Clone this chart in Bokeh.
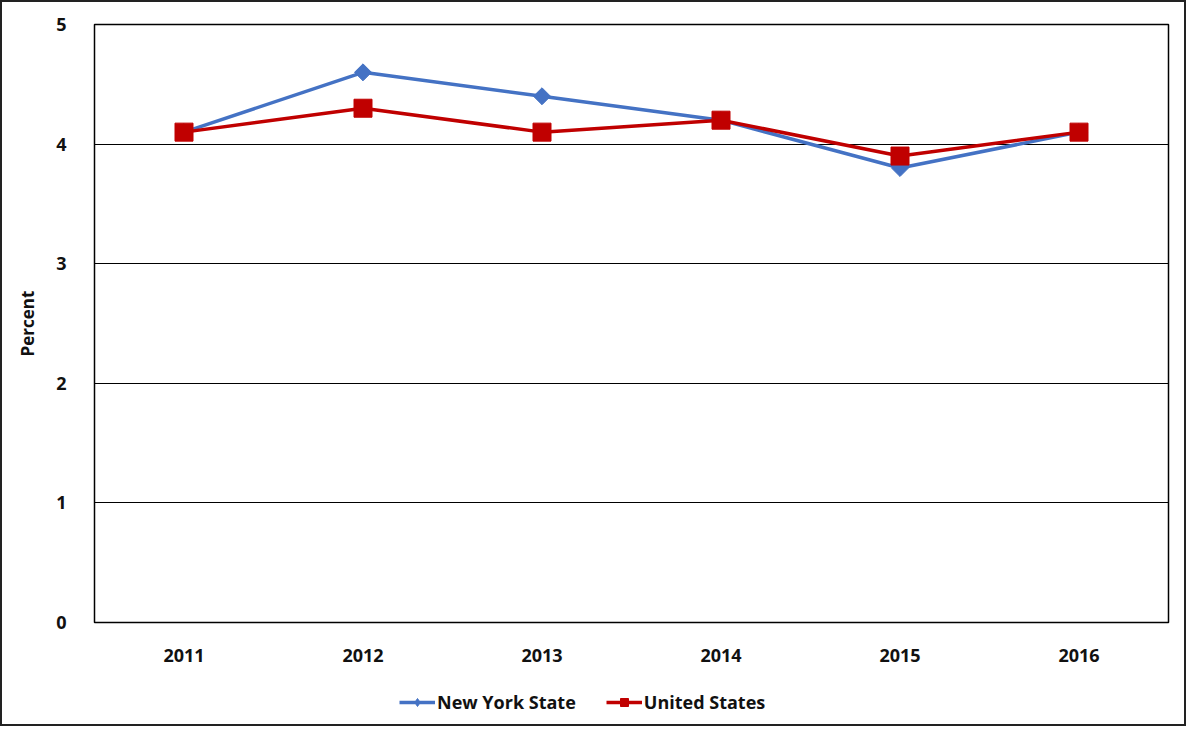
import math
from bokeh.plotting import figure
from bokeh.layouts import column
from bokeh.models import FactorRange, Range1d, FixedTicker, Legend, LegendItem
from bokeh.embed import file_html
from bokeh.resources import INLINE

years = ["2011", "2012", "2013", "2014", "2015", "2016"]
nys = [4.1, 4.6, 4.4, 4.2, 3.8, 4.1]
usa = [4.1, 4.3, 4.1, 4.2, 3.9, 4.1]
y_ticks = [0, 1, 2, 3, 4, 5]
series_names = ["New York State", "United States"]

FONT = "Open Sans"
BLUE = "#4472C4"
RED = "#C00000"
TXT = "#111111"

p = figure(x_range=FactorRange(*years, range_padding=0), y_range=Range1d(0, 5),
           width=1182, height=670, output_backend="svg", toolbar_location=None,
           min_border_left=92, min_border_right=16, min_border_top=22, min_border_bottom=50)

p.outline_line_color = "black"
p.outline_line_width = 1.5
p.outline_line_alpha = 1

p.xgrid.grid_line_color = None
p.ygrid.grid_line_color = "black"
p.ygrid.grid_line_width = 1.2
p.yaxis.ticker = FixedTicker(ticks=y_ticks)

for ax in (p.xaxis, p.yaxis):
    ax.axis_line_color = None
    ax.major_tick_line_color = None
    ax.minor_tick_line_color = None
    ax.major_label_text_font = FONT
    ax.major_label_text_font_style = "bold"
    ax.major_label_text_font_size = "18px"
    ax.major_label_text_color = TXT

p.xaxis.major_label_standoff = 20
p.yaxis.major_label_standoff = 22
p.yaxis.axis_label = "Percent"
p.yaxis.axis_label_text_font = FONT
p.yaxis.axis_label_text_font_style = "bold"
p.yaxis.axis_label_text_font_size = "17px"
p.yaxis.axis_label_text_color = TXT
p.yaxis.axis_label_standoff = 14

p.line(years, nys, line_color=BLUE, line_width=3.5)
p.scatter(years, nys, marker="square", angle=math.pi / 4, size=12,
          fill_color=BLUE, line_color=BLUE)
p.line(years, usa, line_color=RED, line_width=3.5)
p.scatter(years, usa, marker="square", size=18, fill_color=RED, line_color=RED)

# legend strip: a separate figure below the chart; its renderers use the same
# data but its y range lies above the data, so only the legend is visible
lg = figure(width=1182, height=52, output_backend="svg", toolbar_location=None,
            x_range=FactorRange(*years, range_padding=0), y_range=Range1d(10, 11),
            x_axis_type=None, y_axis_type=None, min_border=0)
lg.outline_line_color = None
lg.xgrid.grid_line_color = None
lg.ygrid.grid_line_color = None
r1l = lg.line(years, nys, line_color=BLUE, line_width=3.5)
r1m = lg.scatter(years, nys, marker="diamond", size=18,
                 fill_color=BLUE, line_color=BLUE)
r2l = lg.line(years, usa, line_color=RED, line_width=3.5)
r2m = lg.scatter(years, usa, marker="square", size=16, fill_color=RED, line_color=RED)

legend = Legend(items=[LegendItem(label=series_names[0], renderers=[r1l, r1m]),
                       LegendItem(label=series_names[1], renderers=[r2l, r2m])],
                orientation="horizontal", location=(305, 10),
                label_text_font=FONT, label_text_font_style="bold",
                label_text_font_size="18px", label_text_color=TXT,
                glyph_width=36, glyph_height=20,
                label_standoff=2, spacing=30, border_line_color=None,
                background_fill_alpha=0, margin=0, padding=4)
lg.add_layout(legend)

layout = column(p, lg, spacing=0)
layout.styles = {"border": "2px solid #222222", "box-sizing": "content-box"}

open("out.html", "w").write(file_html(layout, INLINE))
